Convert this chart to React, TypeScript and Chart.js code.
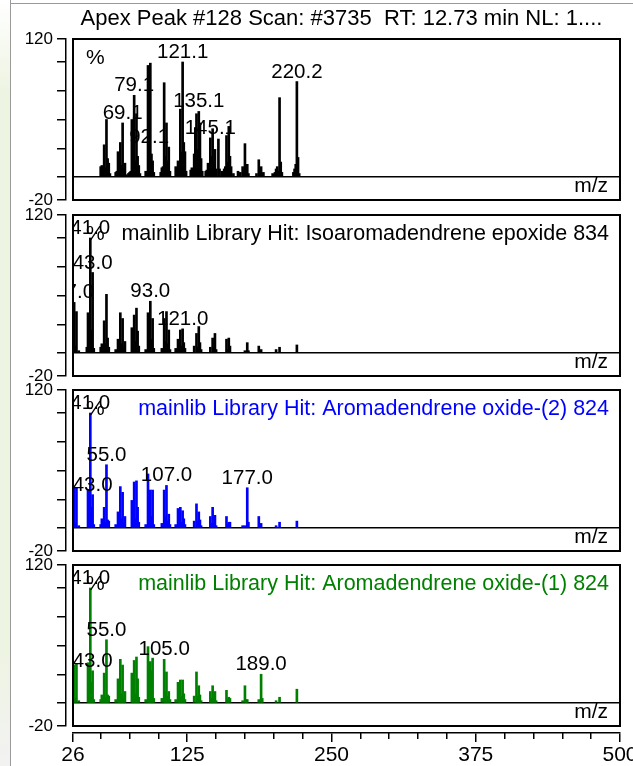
import React, { useEffect, useRef } from 'react';
import { Chart, registerables } from 'chart.js';

Chart.register(...registerables);

const FONT = '"Liberation Sans", Arial, Helvetica, sans-serif';

// ---------- axes ----------
const X_MIN = 26;
const X_MAX = 500;
const xMajorTicks = [26, 125, 250, 375, 500];
const xMinorTicks = [50, 75, 100, 150, 175, 200, 225, 275, 300, 325, 350, 400, 425, 450, 475];
const Y_MIN = -20;
const Y_MAX = 120;
const yTicks = [-20, 0, 25, 50, 75, 100, 120];
const yLabelled = [120, -20];

// ---------- panel 1 : measured spectrum ----------
const sampleTitle = 'Apex Peak #128 Scan: #3735  RT: 12.73 min NL: 1....';
const sampleMz = [
  50, 51, 52, 53, 54, 55, 56, 57, 58,
  63, 64, 65, 66, 67, 68, 69, 70, 71, 72,
  74, 75, 76, 77, 78, 79, 80, 81, 82, 83, 84,
  89, 90, 91, 92, 93, 94, 95, 96,
  102, 103, 104, 105, 106, 107, 108, 109, 110,
  115, 116, 117, 118, 119, 120, 121, 122, 123, 124,
  128, 129, 130, 131, 132, 133, 134, 135, 136, 137, 138,
  141, 142, 143, 144, 145, 146, 147, 148, 149, 150,
  152, 153, 155, 157, 158, 159, 160, 161, 162, 163,
  165, 169, 171, 173, 174, 175, 176, 177, 178,
  185, 187, 188, 189, 190, 191,
  199, 201, 202, 203, 204, 205, 206, 207,
  217, 218, 219, 220, 221, 222,
];
const sampleIntensity = [
  9, 10, 4, 28, 8, 50, 16, 12, 3,
  4, 5, 22, 8, 30, 10, 47, 8, 12, 2,
  3, 4, 5, 50, 16, 71, 14, 55, 18, 10, 3,
  5, 4, 97, 26, 99, 20, 14, 4,
  4, 8, 9, 82, 18, 47, 14, 26, 5,
  9, 5, 14, 7, 59, 22, 100, 30, 22, 5,
  6, 8, 5, 20, 43, 55, 24, 57, 47, 16, 5,
  5, 6, 12, 9, 34, 18, 42, 13, 24, 7,
  33, 7, 5, 7, 9, 36, 13, 44, 18, 9,
  3, 5, 4, 9, 5, 29, 8, 11, 3,
  3, 15, 5, 9, 3, 4,
  3, 4, 7, 9, 5, 69, 13, 4,
  4, 7, 11, 83, 17, 3,
];
const sampleLabelMz = [69, 79, 92, 121, 135, 145, 220];
const sampleLabelText = ['69.1', '79.1', '92.1', '121.1', '135.1', '145.1', '220.2'];

// ---------- panel 2 : library hit 1 ----------
const hit1Title = 'mainlib Library Hit: Isoaromadendrene epoxide 834';
const hit1Mz = [
  27, 28, 29, 31,
  38, 39, 40, 41, 42, 43, 44,
  50, 51, 52, 53, 54, 55, 56, 57,
  63, 65, 66, 67, 68, 69, 70, 71,
  77, 78, 79, 80, 81, 82, 83,
  89, 91, 92, 93, 94, 95, 96,
  103, 105, 106, 107, 108, 109, 110,
  115, 117, 118, 119, 120, 121, 122, 123,
  131, 133, 134, 135, 136, 137,
  145, 147, 148, 149, 150,
  159, 160, 161, 162,
  175, 177, 178,
  187, 189,
  202, 205,
  220,
];
const hit1Intensity = [
  44, 6, 36, 2,
  5, 35, 8, 100, 20, 70, 4,
  5, 8, 4, 28, 8, 51, 13, 5,
  3, 12, 5, 35, 8, 30, 5, 10,
  22, 8, 33, 10, 39, 19, 6,
  3, 35, 10, 45, 12, 30, 4,
  4, 30, 10, 36, 8, 20, 3,
  4, 12, 4, 20, 6, 21, 9, 4,
  6, 17, 5, 23, 9, 3,
  5, 13, 5, 17, 3,
  12, 3, 13, 6,
  2, 9, 2,
  6, 3,
  3, 5,
  7,
];
const hit1LabelMz = [27, 41, 43, 93, 121];
const hit1LabelText = ['27.0', '41.0', '43.0', '93.0', '121.0'];

// ---------- panel 3 : library hit 2 ----------
const hit2Title = 'mainlib Library Hit: Aromadendrene oxide-(2) 824';
const hit2Mz = [
  27, 28, 29, 31,
  39, 40, 41, 42, 43, 44,
  50, 51, 52, 53, 54, 55, 56, 57,
  63, 65, 66, 67, 68, 69, 70, 71,
  77, 78, 79, 80, 81, 82, 83,
  89, 91, 92, 93, 94, 95, 96,
  103, 105, 106, 107, 108, 109, 110,
  115, 117, 118, 119, 120, 121, 122, 123,
  131, 133, 134, 135, 136, 137,
  145, 146, 147, 148, 149, 150,
  159, 160, 161, 162,
  173, 175, 177, 178,
  187, 189,
  202, 205,
  220,
];
const hit2Intensity = [
  35, 4, 35, 2,
  33, 6, 100, 18, 29, 3,
  3, 8, 3, 18, 5, 55, 7, 6,
  3, 14, 5, 36, 8, 31, 4, 10,
  24, 7, 40, 8, 41, 18, 5,
  3, 47, 10, 33, 10, 33, 3,
  4, 33, 10, 37, 6, 12, 3,
  3, 17, 5, 18, 5, 15, 8, 3,
  6, 21, 6, 14, 7, 2,
  10, 4, 18, 4, 11, 2,
  10, 3, 5, 5,
  2, 2, 35, 5,
  10, 4,
  2, 5,
  6,
];
const hit2LabelMz = [41, 43, 55, 107, 177];
const hit2LabelText = ['41.0', '43.0', '55.0', '107.0', '177.0'];

// ---------- panel 4 : library hit 3 ----------
const hit3Title = 'mainlib Library Hit: Aromadendrene oxide-(1) 824';
const hit3Mz = [
  27, 28, 29, 31,
  39, 40, 41, 42, 43, 44,
  50, 51, 52, 53, 54, 55, 56, 57,
  63, 65, 66, 67, 68, 69, 70, 71,
  77, 78, 79, 80, 81, 82, 83,
  89, 91, 92, 93, 94, 95, 96,
  103, 105, 106, 107, 108, 109, 110,
  115, 117, 118, 119, 120, 121, 122, 123,
  131, 133, 134, 135, 136, 137,
  145, 146, 147, 148, 149, 150,
  159, 160, 161, 162,
  173, 175, 176, 177,
  187, 189, 190,
  202, 205,
  220,
];
const hit3Intensity = [
  33, 4, 34, 2,
  35, 6, 100, 18, 28, 3,
  3, 7, 3, 26, 5, 55, 7, 6,
  3, 21, 5, 38, 8, 33, 4, 10,
  26, 7, 37, 8, 40, 21, 5,
  3, 49, 10, 36, 28, 39, 4,
  4, 38, 10, 27, 6, 10, 3,
  3, 18, 5, 20, 6, 20, 8, 3,
  6, 27, 6, 15, 7, 2,
  10, 4, 15, 4, 10, 2,
  11, 3, 5, 4,
  2, 15, 3, 3,
  3, 25, 4,
  2, 5,
  12,
];
const hit3LabelMz = [41, 43, 55, 105, 189];
const hit3LabelText = ['41.0', '43.0', '55.0', '105.0', '189.0'];

// ---------- layout constants ----------
const CANVAS_W = 633;
const CANVAS_H = 766;
const BOX_H = 161;
const Y_AXIS_W = 73;
const RIGHT_PAD = 13;
const X_AXIS_H = 40;

type Panel = {
  mz: number[];
  inten: number[];
  color: string;
  labelMz: number[];
  labelText: string[];
  title: string;
  titleColor: string;
  top: number;
  showX: boolean;
  header: boolean;
};

const PANELS: Panel[] = [
  { mz: sampleMz, inten: sampleIntensity, color: '#000000', labelMz: sampleLabelMz, labelText: sampleLabelText, title: sampleTitle, titleColor: '#000000', top: 39, showX: false, header: true },
  { mz: hit1Mz, inten: hit1Intensity, color: '#000000', labelMz: hit1LabelMz, labelText: hit1LabelText, title: hit1Title, titleColor: '#000000', top: 215, showX: false, header: false },
  { mz: hit2Mz, inten: hit2Intensity, color: '#0000ff', labelMz: hit2LabelMz, labelText: hit2LabelText, title: hit2Title, titleColor: '#0000ff', top: 390, showX: false, header: false },
  { mz: hit3Mz, inten: hit3Intensity, color: '#008000', labelMz: hit3LabelMz, labelText: hit3LabelText, title: hit3Title, titleColor: '#008000', top: 565, showX: true, header: false },
];

function buildConfig(p: Panel): any {
  const boxBottom = p.top + BOX_H;
  const padBottom = p.showX ? CANVAS_H - boxBottom - X_AXIS_H : CANVAS_H - boxBottom;

  const scales: any = {
    x: {
      type: 'linear',
      min: X_MIN,
      max: X_MAX,
      offset: false,
      display: p.showX,
      position: 'bottom',
      grid: { drawOnChartArea: false, drawTicks: true, tickLength: 9, tickColor: '#000', lineWidth: 1.5, offset: false },
      border: { display: true, color: '#000', width: 1.5 },
      ticks: {
        autoSkip: false,
        maxRotation: 0,
        minRotation: 0,
        padding: 1,
        color: '#000',
        font: { family: FONT, size: 21 },
        callback: (v: number) => String(v),
      },
      afterBuildTicks: (s: any) => {
        s.ticks = xMajorTicks.map((v) => ({ value: v }));
      },
      afterFit: (s: any) => {
        s.height = p.showX ? X_AXIS_H : 0;
        s.paddingLeft = 0;
        s.paddingRight = 0;
      },
    },
    y: {
      type: 'linear',
      min: Y_MIN,
      max: Y_MAX,
      position: 'left',
      grid: {
        drawOnChartArea: true,
        drawTicks: true,
        tickLength: 9,
        lineWidth: 1.5,
        tickColor: '#000',
        color: (c: any) => (c.tick && c.tick.value === 0 ? '#000' : 'rgba(0,0,0,0)'),
      },
      border: { display: true, color: '#000', width: 1.5 },
      ticks: {
        autoSkip: false,
        padding: 4,
        color: '#000',
        font: { family: FONT, size: 17 },
        callback: (v: number) => (yLabelled.includes(v) ? String(v) : ''),
      },
      afterBuildTicks: (s: any) => {
        s.ticks = yTicks.map((v) => ({ value: v }));
      },
      afterFit: (s: any) => {
        s.width = Y_AXIS_W;
        s.paddingTop = 0;
        s.paddingBottom = 0;
      },
    },
  };

  if (p.showX) {
    scales.xMinor = {
      type: 'linear',
      min: X_MIN,
      max: X_MAX,
      offset: false,
      display: true,
      position: 'bottom',
      grid: { drawOnChartArea: false, drawTicks: true, tickLength: 6, tickColor: '#000', lineWidth: 1.5, offset: false },
      border: { display: false },
      ticks: { display: false, autoSkip: false },
      afterBuildTicks: (s: any) => {
        s.ticks = xMinorTicks.map((v) => ({ value: v }));
      },
      afterFit: (s: any) => {
        s.height = 0;
        s.paddingLeft = 0;
        s.paddingRight = 0;
      },
    };
  }

  const shiftPlugin = {
    id: 'shiftAxes',
    afterLayout(chart: any) {
      const y = chart.scales.y;
      y.left -= 7;
      y.right -= 7;
      if (p.showX) {
        const x = chart.scales.x;
        x.top += 7;
        x.bottom += 7;
        const xm = chart.scales.xMinor;
        xm.top = x.top;
        xm.bottom = x.top;
      }
    },
  };

  const boxPlugin = {
    id: 'boxBorder',
    afterDatasetsDraw(chart: any) {
      const { ctx, chartArea: a } = chart;
      ctx.save();
      ctx.strokeStyle = '#000';
      ctx.lineWidth = 2;
      ctx.strokeRect(a.left, a.top, a.right - a.left, a.bottom - a.top);
      ctx.restore();
    },
  };

  const textPlugin = {
    id: 'spectrumText',
    afterDraw(chart: any) {
      const { ctx, chartArea: a } = chart;
      const xs = chart.scales.x;
      const ys = chart.scales.y;
      ctx.save();
      if (p.header) {
        ctx.font = `22px ${FONT}`;
        ctx.fillStyle = p.titleColor;
        ctx.textAlign = 'center';
        ctx.textBaseline = 'alphabetic';
        ctx.fillText(p.title, (a.left + a.right) / 2 - 5, a.top - 14);
      } else {
        ctx.font = `21.5px ${FONT}`;
        ctx.fillStyle = p.titleColor;
        ctx.textAlign = 'right';
        ctx.textBaseline = 'alphabetic';
        ctx.fillText(p.title, a.right - 11, a.top + 25);
      }
      // m/z
      ctx.font = `21px ${FONT}`;
      ctx.fillStyle = '#000';
      ctx.textAlign = 'right';
      ctx.fillText('m/z', a.right - 12, ys.getPixelForValue(0) + 15);
      // clip for in-plot texts
      ctx.beginPath();
      ctx.rect(a.left, a.top, a.right - a.left, a.bottom - a.top);
      ctx.clip();
      ctx.textAlign = 'left';
      ctx.fillText('%', a.left + 13, a.top + 25);
      ctx.font = `20.5px ${FONT}`;
      ctx.textAlign = 'center';
      p.labelMz.forEach((m, i) => {
        const idx = p.mz.indexOf(m);
        if (idx < 0) return;
        const px = xs.getPixelForValue(m);
        const py = ys.getPixelForValue(p.inten[idx]);
        ctx.fillText(p.labelText[i], px, py - 4);
      });
      ctx.restore();
    },
  };

  return {
    type: 'bar',
    data: {
      datasets: [
        {
          data: p.mz.map((m, i) => ({ x: m, y: p.inten[i] })),
          backgroundColor: p.color,
          borderWidth: 0,
          barThickness: 2,
          xAxisID: 'x',
          yAxisID: 'y',
        },
      ],
    },
    options: {
      responsive: false,
      maintainAspectRatio: false,
      animation: false,
      devicePixelRatio: 1,
      events: [],
      layout: { padding: { top: p.top, bottom: padBottom, left: 0, right: RIGHT_PAD } },
      plugins: {
        legend: { display: false },
        tooltip: { enabled: false },
        title: { display: false },
      },
      scales,
    },
    plugins: [shiftPlugin, boxPlugin, textPlugin],
  };
}

export default function App() {
  const canvases = useRef<(HTMLCanvasElement | null)[]>([]);

  useEffect(() => {
    const charts: Chart[] = [];
    PANELS.forEach((p, i) => {
      const c = canvases.current[i];
      if (c) charts.push(new Chart(c, buildConfig(p)));
    });
    return () => charts.forEach((c) => c.destroy());
  }, []);

  return (
    <div
      style={{
        position: 'absolute',
        left: 0,
        top: 0,
        width: CANVAS_W,
        height: CANVAS_H,
        background: '#ffffff',
        overflow: 'hidden',
      }}
    >
      <div
        style={{
          position: 'absolute',
          left: 0,
          top: 0,
          width: 10,
          height: CANVAS_H,
          background: 'linear-gradient(to bottom, #ffffff 0%, #eef4e2 12%, #eef4e2 85%, #f2f2f2 100%)',
        }}
      />
      <div style={{ position: 'absolute', left: 10, top: 0, width: 1, height: CANVAS_H, background: '#9a9a9a' }} />
      <div style={{ position: 'absolute', left: 10, top: 3, width: CANVAS_W - 10, height: 1, background: '#9a9a9a' }} />
      {PANELS.map((_, i) => (
        <canvas
          key={i}
          ref={(el) => {
            canvases.current[i] = el;
          }}
          width={CANVAS_W}
          height={CANVAS_H}
          style={{ position: 'absolute', left: 0, top: 0 }}
        />
      ))}
    </div>
  );
}
